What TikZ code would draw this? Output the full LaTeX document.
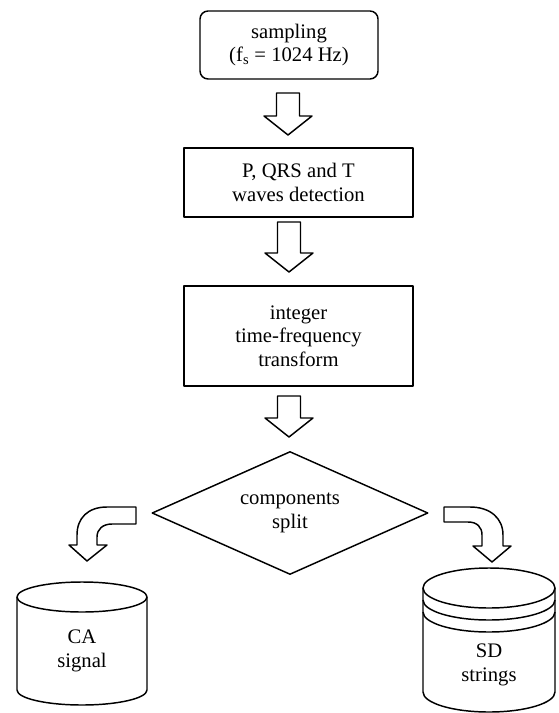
\documentclass[tikz,border=0pt]{standalone}
\usepackage{fontspec}
\setmainfont{Liberation Serif}
\usetikzlibrary{shapes.geometric}

\tikzset{
  outl/.style={line width=1.1pt, line join=round},
  procbox/.style={draw, outl, align=center, inner sep=0pt, minimum width=171.75pt},
  blockdown/.pic={
    \draw[outl] (0,0) -- (-24,19) -- (-11.5,19) -- (-11.5,19+#1) -- (11.5,19+#1) -- (11.5,19) -- (24,19) -- cycle;
  }
}

\begin{document}
\begin{tikzpicture}[x=0.75pt,y=0.75pt,yscale=-1,font=\fontsize{15.5}{17.5}\selectfont]
\useasboundingbox (0,0) rectangle (558,713);

% Process Nodes
\node [procbox, rounded corners=6pt, minimum width=133.5pt, minimum height=51pt] (samp) at (289,45) {sampling\\(f\textsubscript{s} = 1024 Hz)};
\node [procbox, minimum height=51.75pt] (detect) at (298.5,182.5) {P, QRS and T\\waves detection};
\node [procbox, minimum height=75pt] (itf) at (298.5,336) {integer\\time-frequency\\transform};
% Decision
\node [diamond, draw, outl, inner sep=0pt, minimum width=207pt, minimum height=92.25pt, align=center] (split) at (290,513) {};
\node [align=center] (splittxt) at (split.center) {components\\split};

% Block Arrows
\pic at (288,135) {blockdown=23};
\pic at (289,272) {blockdown=31};
\pic at (289,437) {blockdown=22};

% Curved Arrows
\draw[outl] (136,507) -- (107,507) .. controls (88,507) and (77,518) .. (77,535) -- (77,545) -- (69,545) -- (87,561) -- (107,545) -- (97,545) -- (97,537) .. controls (97,529) and (103,524) .. (112,524) -- (136,524) -- cycle;
\draw[outl] (444,507) -- (470,507) .. controls (490,507) and (503,518) .. (503,535) -- (503,546) -- (511,546) -- (492,562) -- (473,546) -- (482,546) -- (482,535) .. controls (482,527) and (477,522) .. (468,522) -- (444,522) -- cycle;

% CA Storage
\draw[outl] (82,597) ellipse [x radius=65, y radius=15];
\draw[outl] (17,597) -- (17,690) arc [start angle=180, end angle=0, x radius=65, y radius=15] -- (147,597);
\node [align=center] (ca) at (82,651) {CA\\signal};

% SD Storage
\draw[outl] (489,588) ellipse [x radius=66, y radius=20];
\draw[outl] (423,600) arc [start angle=180, end angle=0, x radius=66, y radius=20];
\draw[outl] (423,612) arc [start angle=180, end angle=0, x radius=66, y radius=20];
\draw[outl] (423,588) -- (423,692) arc [start angle=180, end angle=0, x radius=66, y radius=20] -- (555,588);
\node [align=center] (sd) at (489,665) {SD\\strings};

\end{tikzpicture}
\end{document}
